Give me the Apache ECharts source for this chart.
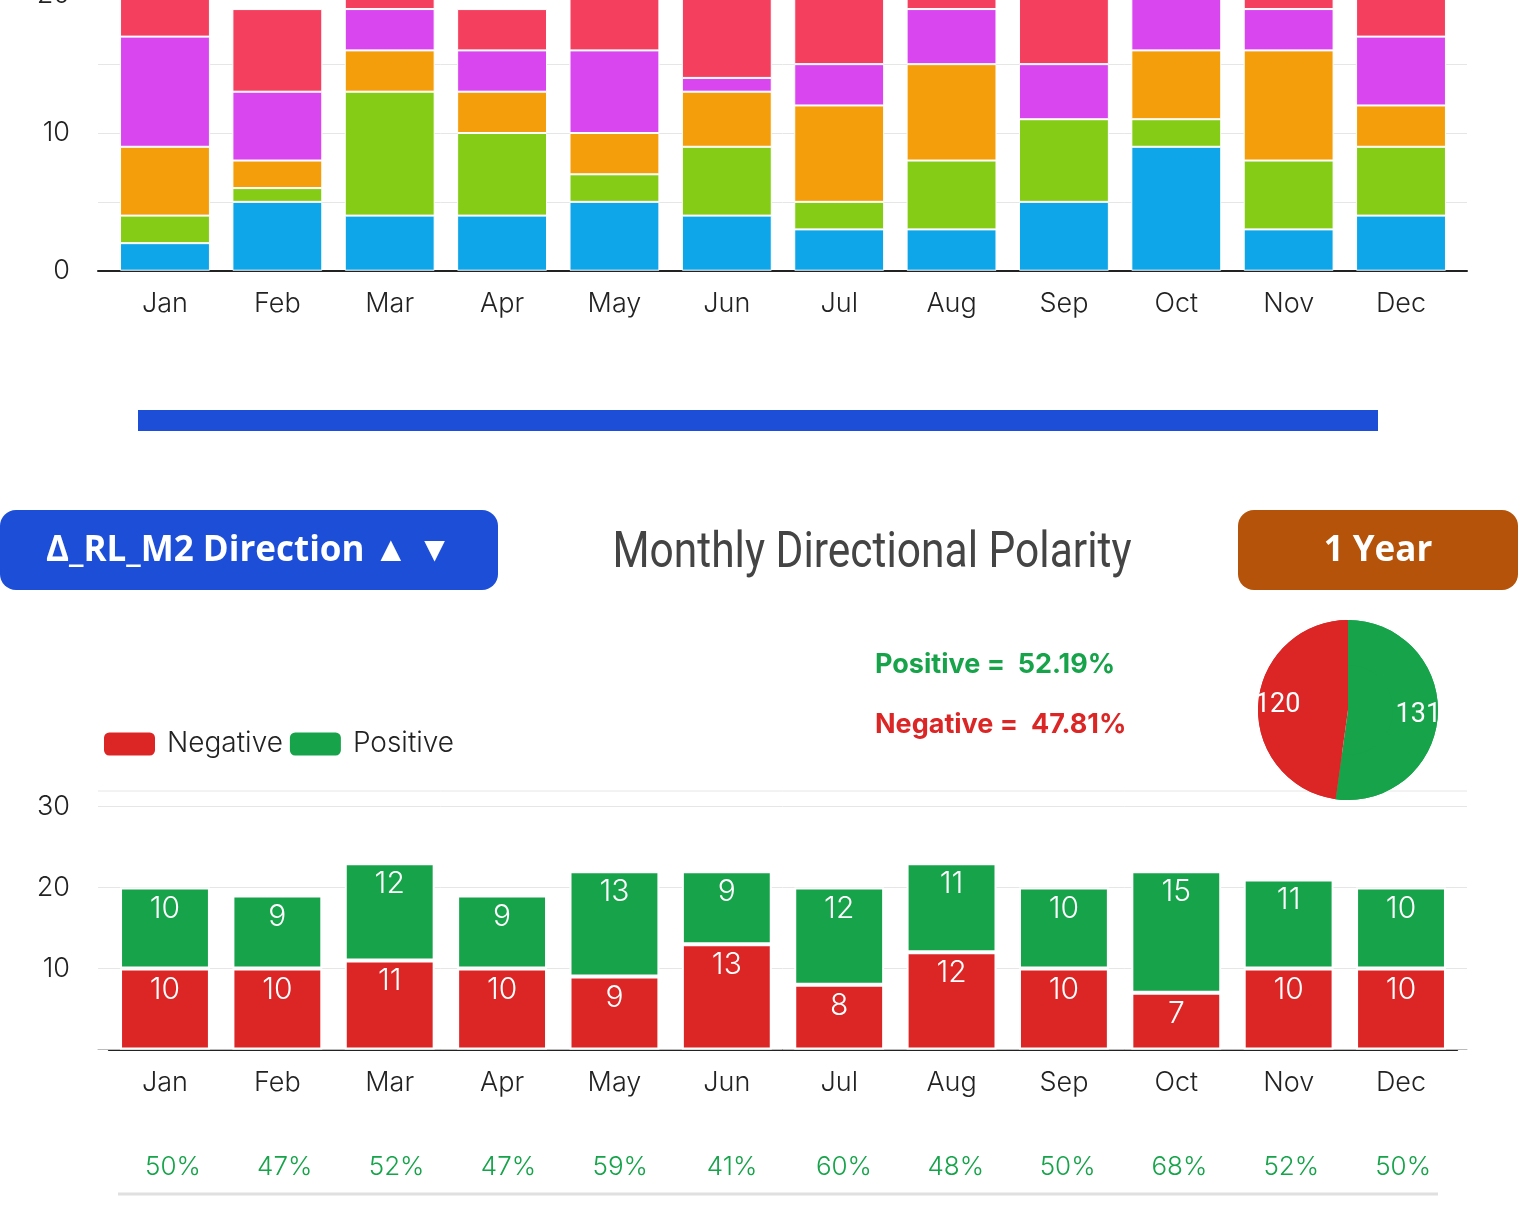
<!DOCTYPE html>
<html>
<head>
<meta charset="utf-8">
<title>Monthly Directional Polarity</title>
<script src="https://cdn.jsdelivr.net/npm/echarts@6/dist/echarts.min.js"></script>
<style>
  html, body { margin: 0; padding: 0; background: #fff; }
  #main { width: 1526px; height: 1216px; }
</style>
</head>
<body>
<div id="main"></div>
<script>
// months
var months = ['Jan', 'Feb', 'Mar', 'Apr', 'May', 'Jun', 'Jul', 'Aug', 'Sep', 'Oct', 'Nov', 'Dec'];

// upper stacked chart (5 buckets)
var bucket1 = [2, 5, 4, 4, 5, 4, 3, 3, 5, 9, 3, 4];
var bucket2 = [2, 1, 9, 6, 2, 5, 2, 5, 6, 2, 5, 5];
var bucket3 = [5, 2, 3, 3, 3, 4, 7, 7, 0, 5, 8, 3];
var bucket4 = [8, 5, 3, 3, 6, 1, 3, 4, 4, 6, 3, 5];
var bucket5 = [3, 6, 4, 3, 6, 8, 5, 4, 5, 0, 2, 3];

// polarity chart
var negative = [10, 10, 11, 10, 9, 13, 8, 12, 10, 7, 10, 10];
var positive = [10, 9, 12, 9, 13, 9, 12, 11, 10, 15, 11, 10];
var positivePct = ['50%', '47%', '52%', '47%', '59%', '41%', '60%', '48%', '50%', '68%', '52%', '50%'];
var pieTotals = [{ name: 'Positive', value: 131 }, { name: 'Negative', value: 120 }];

var FONT = 'Inter, Lato, sans-serif';
var RED = '#DC2626', GREEN = '#16A34A', BLUE = '#1D4ED8';

var chart = echarts.init(document.getElementById('main'));

function stackBar(name, data, color) {
  return {
    name: name,
    type: 'bar',
    stack: 'top',
    xAxisIndex: 0,
    yAxisIndex: 0,
    barCategoryGap: '20%',
    itemStyle: { color: color, borderColor: '#fff', borderWidth: 1 },
    data: data
  };
}

function polarBar(name, data, color) {
  return {
    name: name,
    type: 'bar',
    stack: 'polar',
    xAxisIndex: 1,
    yAxisIndex: 1,
    barCategoryGap: '20%',
    itemStyle: { color: color, borderColor: '#fff', borderWidth: 2 },
    label: {
      show: true,
      position: 'insideTop',
      distance: 6,
      color: '#fff',
      fontSize: 30,
      fontWeight: 300,
      fontFamily: FONT
    },
    data: data
  };
}

var option = {
  animation: false,
  backgroundColor: '#fff',
  legend: {
    data: ['Negative', 'Positive'],
    left: 102,
    top: 730,
    padding: 0,
    itemWidth: 53,
    itemHeight: 25,
    itemGap: 5,
    icon: 'roundRect',
    textStyle: { fontSize: 28, color: '#222', fontFamily: FONT, fontWeight: 300, padding: [0, 0, 0, 6] }
  },
  grid: [
    // 0 top bars
    { left: 108.8, width: 1348.4, top: -4.7, height: 275.4, outerBoundsMode: 'none' },
    // 1 polarity bars
    { left: 108.8, width: 1348.4, top: 806.5, height: 243, outerBoundsMode: 'none' },
    // 2 top background lines
    { left: 98, width: 1369, top: -4.7, height: 275.4, outerBoundsMode: 'none' },
    // 3 polarity background lines
    { left: 98, width: 1369, top: 806.5, height: 243, outerBoundsMode: 'none' },
    // 4 percentage row
    { left: 117, width: 1342, top: 1110, height: 40, outerBoundsMode: 'none' }
  ],
  xAxis: [
    { gridIndex: 0, type: 'category', data: months, axisLine: { show: false }, axisTick: { show: false },
      axisLabel: { margin: 20, fontSize: 27, color: '#222', fontFamily: FONT, fontWeight: 300 } },
    { gridIndex: 1, type: 'category', data: months, axisTick: { show: false },
      axisLine: { show: true, lineStyle: { color: '#222', width: 2 } },
      axisLabel: { margin: 20, fontSize: 27, color: '#222', fontFamily: FONT, fontWeight: 300 } },
    { gridIndex: 2, type: 'value', min: 0, max: 1, axisLabel: { show: false }, axisTick: { show: false },
      splitLine: { show: false }, axisLine: { show: true, lineStyle: { color: '#222', width: 2 } } },
    { gridIndex: 3, type: 'value', min: 0, max: 1, axisLabel: { show: false }, axisTick: { show: false },
      splitLine: { show: false }, axisLine: { show: true, lineStyle: { color: '#bbb', width: 1 } } },
    { gridIndex: 4, type: 'category', data: positivePct, axisLine: { show: false }, axisTick: { show: false },
      axisLabel: { margin: 4, fontSize: 26, color: GREEN, fontFamily: FONT, fontWeight: 300 } }
  ],
  yAxis: [
    { gridIndex: 0, type: 'value', min: 0, max: 20, interval: 10, show: false },
    { gridIndex: 1, type: 'value', min: 0, max: 30, interval: 10, show: false },
    { gridIndex: 2, type: 'value', min: 0, max: 20, interval: 10,
      axisLine: { show: false }, axisTick: { show: false },
      axisLabel: { margin: 28, fontSize: 27, color: '#222', fontFamily: FONT, fontWeight: 300 },
      splitLine: { lineStyle: { color: '#e6e6e6', width: 1 } },
      minorTick: { show: false, splitNumber: 2 },
      minorSplitLine: { show: true, lineStyle: { color: '#e6e6e6', width: 1 } } },
    { gridIndex: 3, type: 'value', min: 0, max: 30, interval: 10,
      axisLine: { show: false }, axisTick: { show: false },
      axisLabel: { margin: 28, fontSize: 27, color: '#222', fontFamily: FONT, fontWeight: 300,
        formatter: function (v) { return v === 0 ? '' : v; } },
      splitLine: { lineStyle: { color: '#e6e6e6', width: 1 } } },
    { gridIndex: 4, type: 'value', show: false }
  ],
  graphic: [
    { type: 'rect', shape: { x: 138, y: 410, width: 1240, height: 21 }, style: { fill: BLUE } },
    { type: 'rect', shape: { x: 0, y: 510, width: 498, height: 80, r: 16 }, style: { fill: BLUE } },
    { type: 'text', x: 249, y: 551, style: { text: 'Δ_RL_M2 Direction ▲ ▼', fill: '#fff', font: 'bold 35px "Open Sans", sans-serif',
      textAlign: 'center', textVerticalAlign: 'middle' } },
    { type: 'text', x: 872, y: 554, scaleX: 0.85, style: { text: 'Monthly Directional Polarity', fill: '#444',
      font: '400 50px Roboto, sans-serif', textAlign: 'center', textVerticalAlign: 'middle' } },
    { type: 'rect', shape: { x: 1238, y: 510, width: 280, height: 80, r: 16 }, style: { fill: '#B45309' } },
    { type: 'text', x: 1378, y: 551, style: { text: '1 Year', fill: '#fff', font: 'bold 35px "Open Sans", sans-serif',
      textAlign: 'center', textVerticalAlign: 'middle' } },
    { type: 'text', x: 875, y: 665, style: { text: 'Positive =  52.19%', fill: GREEN, font: 'bold 27px ' + FONT,
      textVerticalAlign: 'middle' } },
    { type: 'text', x: 875, y: 725, style: { text: 'Negative =  47.81%', fill: RED, font: 'bold 27px ' + FONT,
      textVerticalAlign: 'middle' } },
    { type: 'line', shape: { x1: 98, y1: 791, x2: 1467, y2: 791 }, style: { stroke: '#e6e6e6', lineWidth: 1 } },
    { type: 'line', shape: { x1: 118, y1: 1194, x2: 1438, y2: 1194 }, style: { stroke: '#e0e0e0', lineWidth: 3 } }
  ],
  series: [
    stackBar('Bucket 1', bucket1, '#0EA5E9'),
    stackBar('Bucket 2', bucket2, '#84CC16'),
    stackBar('Bucket 3', bucket3, '#F59E0B'),
    stackBar('Bucket 4', bucket4, '#D946EF'),
    stackBar('Bucket 5', bucket5, '#F43F5E'),
    polarBar('Negative', negative, RED),
    polarBar('Positive', positive, GREEN),
    {
      type: 'pie',
      center: [1348, 710],
      radius: [0, 90],
      startAngle: 90,
      silent: true,
      label: { show: false },
      labelLine: { show: false },
      itemStyle: { borderWidth: 0 },
      color: [GREEN, RED],
      data: pieTotals
    },
    {
      // ring on top only to place the count labels further out
      type: 'pie',
      center: [1348, 710],
      radius: [45, 90],
      startAngle: 90,
      silent: true,
      labelLine: { show: false },
      label: { show: true, position: 'inside', color: '#fff', fontSize: 27, fontFamily: 'Roboto', formatter: '{c}' },
      itemStyle: { borderWidth: 0 },
      color: [GREEN, RED],
      data: pieTotals
    }
  ]
};

chart.setOption(option);
</script>
</body>
</html>
